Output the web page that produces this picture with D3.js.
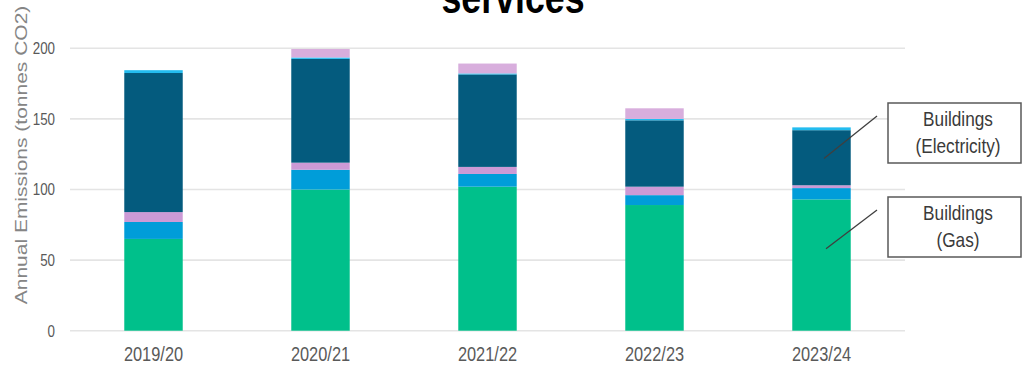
<!DOCTYPE html>
<html>
<head>
<meta charset="utf-8">
<script src="https://cdn.jsdelivr.net/npm/d3@7"></script>
<style>
  html, body { margin: 0; padding: 0; background: #ffffff; }
  svg { display: block; }
  text { font-family: "Liberation Sans", Arial, sans-serif; }
</style>
</head>
<body>
<svg id="chart" width="1023" height="367"></svg>
<script>
// Financial years on the x axis
const years = ["2019/20", "2020/21", "2021/22", "2022/23", "2023/24"];

// Emission sources, stacked bottom to top (tonnes CO2)
const buildingsGas         = [65, 100, 102, 89, 93];
const fleetTransport       = [12, 14, 9, 7, 8];
const businessTravel       = [7, 5, 5, 6, 2];
const buildingsElectricity = [98.5, 73.5, 65.5, 47, 39];
const waterSupply          = [2, 1, 0.7, 1, 2];
const wasteDisposal        = [0, 6, 7, 7.5, 0];

const seriesKeys   = ["gas", "fleet", "travel", "electricity", "water", "waste"];
const seriesColors = ["#00c08b", "#009dd9", "#cc9ad6", "#045b7e", "#23bcef", "#d8aedd"];

const yTicks = [0, 50, 100, 150, 200];

// Callouts naming the two building series on the latest bar
const calloutLines  = [["Buildings", "(Electricity)"], ["Buildings", "(Gas)"]];
const calloutValues = [122, 58];

const rows = years.map((y, i) => ({
  year: y,
  gas: buildingsGas[i],
  fleet: fleetTransport[i],
  travel: businessTravel[i],
  electricity: buildingsElectricity[i],
  water: waterSupply[i],
  waste: wasteDisposal[i]
}));

const svg = d3.select("#chart");
const SQ = 0.82; // horizontal squeeze used for all type

const plot = { left: 70, right: 905, top: 48.3, bottom: 330.7 };

const x = d3.scaleBand()
  .domain(years)
  .range([plot.left, plot.right])
  .paddingInner(0.65)
  .paddingOuter(0.325);

const y = d3.scaleLinear()
  .domain([0, 200])
  .range([plot.bottom, plot.top]);

// Gridlines
svg.append("g")
  .selectAll("line")
  .data(yTicks)
  .join("line")
  .attr("x1", plot.left)
  .attr("x2", plot.right)
  .attr("y1", d => y(d))
  .attr("y2", d => y(d))
  .attr("stroke", "#e4e4e4")
  .attr("stroke-width", 1.6);

// Y tick labels
svg.append("g")
  .selectAll("text")
  .data(yTicks)
  .join("text")
  .attr("transform", d => `translate(55,${y(d) + 5.8}) scale(${SQ},1)`)
  .attr("text-anchor", "end")
  .attr("font-size", 16.3)
  .attr("fill", "#595959")
  .text(d => d);

// Stacked bars
const stack = d3.stack().keys(seriesKeys);
const layers = stack(rows);

svg.append("g")
  .selectAll("g")
  .data(layers)
  .join("g")
  .attr("fill", (d, i) => seriesColors[i])
  .selectAll("rect")
  .data(d => d)
  .join("rect")
  .attr("x", d => x(d.data.year))
  .attr("width", x.bandwidth())
  .attr("y", d => y(d[1]))
  .attr("height", d => Math.max(0, y(d[0]) - y(d[1])));

// X axis labels
svg.append("g")
  .selectAll("text")
  .data(years)
  .join("text")
  .attr("transform", d => `translate(${x(d) + x.bandwidth() / 2},361) scale(${SQ},1)`)
  .attr("text-anchor", "middle")
  .attr("font-size", 20)
  .attr("fill", "#595959")
  .text(d => d);

// Y axis title
svg.append("text")
  .attr("transform", `translate(27,155) rotate(-90) scale(1,${SQ})`)
  .attr("text-anchor", "middle")
  .attr("font-size", 21)
  .attr("fill", "#858585")
  .text("Annual Emissions (tonnes CO2)");

// Chart title (tail of a two-line heading)
svg.append("text")
  .attr("transform", `translate(513,13) scale(${SQ},1)`)
  .attr("text-anchor", "middle")
  .attr("font-size", 43.6)
  .attr("font-weight", "bold")
  .attr("fill", "#000000")
  .text("services");

// Callouts
const lastYear = years[years.length - 1];
const boxLeft = 888, boxWidth = 133, boxHeight = 60;
const boxTops = [103, 197];

const callouts = svg.append("g")
  .selectAll("g")
  .data(calloutLines.map((lines, i) => ({ lines, value: calloutValues[i], top: boxTops[i], idx: i })))
  .join("g");

callouts.append("line")
  .attr("x1", d => x(lastYear) + x.bandwidth() / 2 + 2.5 + d.idx * 2)
  .attr("y1", d => y(d.value))
  .attr("x2", boxLeft - 11)
  .attr("y2", d => d.top + 13)
  .attr("stroke", "#3f3f3f")
  .attr("stroke-width", 1.3);

callouts.append("rect")
  .attr("x", boxLeft)
  .attr("y", d => d.top)
  .attr("width", boxWidth)
  .attr("height", boxHeight)
  .attr("fill", "#ffffff")
  .attr("stroke", "#595959")
  .attr("stroke-width", 1.5);

callouts.each(function (d) {
  d3.select(this).selectAll("text.lbl")
    .data(d.lines)
    .join("text")
    .attr("class", "lbl")
    .attr("transform", (t, j) => `translate(958,${d.top + 23 + j * 27}) scale(${SQ},1)`)
    .attr("text-anchor", "middle")
    .attr("font-size", 21)
    .attr("fill", "#3a3a3a")
    .text(t => t);
});
</script>
</body>
</html>
